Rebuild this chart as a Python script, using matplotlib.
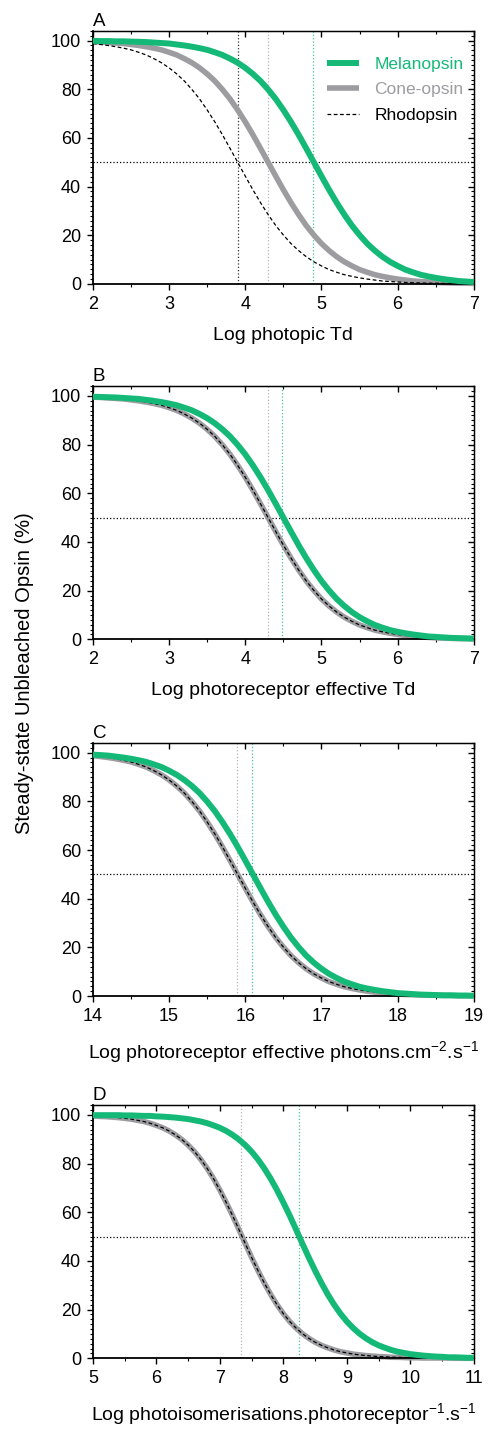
import matplotlib
matplotlib.use("Agg")
import matplotlib.pyplot as plt
from matplotlib.ticker import MultipleLocator

plt.rcParams["font.family"] = ["Liberation Sans", "DejaVu Sans"]
plt.rcParams["mathtext.fontset"] = "custom"
plt.rcParams["mathtext.rm"] = "Liberation Sans"
plt.rcParams["mathtext.it"] = "Liberation Sans:italic"

# ---- data (0.1 log-unit steps) ----
x_a = [2.0, 2.1, 2.2, 2.3, 2.4, 2.5, 2.6, 2.7, 2.8, 2.9,
       3.0, 3.1, 3.2, 3.3, 3.4, 3.5, 3.6, 3.7, 3.8, 3.9,
       4.0, 4.1, 4.2, 4.3, 4.4, 4.5, 4.6, 4.7, 4.8, 4.9,
       5.0, 5.1, 5.2, 5.3, 5.4, 5.5, 5.6, 5.7, 5.8, 5.9,
       6.0, 6.1, 6.2, 6.3, 6.4, 6.5, 6.6, 6.7, 6.8, 6.9,
       7.0]
a_mel = [99.9, 99.8, 99.8, 99.7, 99.7, 99.6, 99.5, 99.4, 99.2, 99.0,
         98.8, 98.4, 98.0, 97.5, 96.9, 96.2, 95.2, 94.1, 92.6, 90.9,
         88.8, 86.3, 83.4, 79.9, 76.0, 71.5, 66.6, 61.3, 55.7, 50.0,
         44.3, 38.7, 33.4, 28.5, 24.0, 20.1, 16.6, 13.7, 11.2, 9.1,
         7.4, 5.9, 4.8, 3.8, 3.1, 2.5, 2.0, 1.6, 1.2, 1.0,
         0.8]
a_cone = [99.5, 99.4, 99.2, 99.0, 98.8, 98.4, 98.0, 97.5, 96.9, 96.2,
          95.2, 94.1, 92.6, 90.9, 88.8, 86.3, 83.4, 79.9, 76.0, 71.5,
          66.6, 61.3, 55.7, 50.0, 44.3, 38.7, 33.4, 28.5, 24.0, 20.1,
          16.6, 13.7, 11.2, 9.1, 7.4, 5.9, 4.8, 3.8, 3.1, 2.5,
          2.0, 1.6, 1.2, 1.0, 0.8, 0.6, 0.5, 0.4, 0.3, 0.3,
          0.2]
a_rho = [98.8, 98.4, 98.0, 97.5, 96.9, 96.2, 95.2, 94.1, 92.6, 90.9,
         88.8, 86.3, 83.4, 79.9, 76.0, 71.5, 66.6, 61.3, 55.7, 50.0,
         44.3, 38.7, 33.4, 28.5, 24.0, 20.1, 16.6, 13.7, 11.2, 9.1,
         7.4, 5.9, 4.8, 3.8, 3.1, 2.5, 2.0, 1.6, 1.2, 1.0,
         0.8, 0.6, 0.5, 0.4, 0.3, 0.3, 0.2, 0.2, 0.1, 0.1,
         0.1]

x_b = x_a
b_mel = [99.7, 99.6, 99.5, 99.4, 99.2, 99.0, 98.8, 98.4, 98.0, 97.5,
         96.9, 96.2, 95.2, 94.1, 92.6, 90.9, 88.8, 86.3, 83.4, 79.9,
         76.0, 71.5, 66.6, 61.3, 55.7, 50.0, 44.3, 38.7, 33.4, 28.5,
         24.0, 20.1, 16.6, 13.7, 11.2, 9.1, 7.4, 5.9, 4.8, 3.8,
         3.1, 2.5, 2.0, 1.6, 1.2, 1.0, 0.8, 0.6, 0.5, 0.4,
         0.3]
b_cone = [99.5, 99.4, 99.2, 99.0, 98.8, 98.4, 98.0, 97.5, 96.9, 96.2,
          95.2, 94.1, 92.6, 90.9, 88.8, 86.3, 83.4, 79.9, 76.0, 71.5,
          66.6, 61.3, 55.7, 50.0, 44.3, 38.7, 33.4, 28.5, 24.0, 20.1,
          16.6, 13.7, 11.2, 9.1, 7.4, 5.9, 4.8, 3.8, 3.1, 2.5,
          2.0, 1.6, 1.2, 1.0, 0.8, 0.6, 0.5, 0.4, 0.3, 0.3,
          0.2]
b_rho = b_cone

x_c = [14.0, 14.1, 14.2, 14.3, 14.4, 14.5, 14.6, 14.7, 14.8, 14.9,
       15.0, 15.1, 15.2, 15.3, 15.4, 15.5, 15.6, 15.7, 15.8, 15.9,
       16.0, 16.1, 16.2, 16.3, 16.4, 16.5, 16.6, 16.7, 16.8, 16.9,
       17.0, 17.1, 17.2, 17.3, 17.4, 17.5, 17.6, 17.7, 17.8, 17.9,
       18.0, 18.1, 18.2, 18.3, 18.4, 18.5, 18.6, 18.7, 18.8, 18.9,
       19.0]
c_mel = [99.2, 99.0, 98.8, 98.4, 98.0, 97.5, 96.9, 96.2, 95.2, 94.1,
         92.6, 90.9, 88.8, 86.3, 83.4, 79.9, 76.0, 71.5, 66.6, 61.3,
         55.7, 50.0, 44.3, 38.7, 33.4, 28.5, 24.0, 20.1, 16.6, 13.7,
         11.2, 9.1, 7.4, 5.9, 4.8, 3.8, 3.1, 2.5, 2.0, 1.6,
         1.2, 1.0, 0.8, 0.6, 0.5, 0.4, 0.3, 0.3, 0.2, 0.2,
         0.1]
c_cone = [98.8, 98.4, 98.0, 97.5, 96.9, 96.2, 95.2, 94.1, 92.6, 90.9,
          88.8, 86.3, 83.4, 79.9, 76.0, 71.5, 66.6, 61.3, 55.7, 50.0,
          44.3, 38.7, 33.4, 28.5, 24.0, 20.1, 16.6, 13.7, 11.2, 9.1,
          7.4, 5.9, 4.8, 3.8, 3.1, 2.5, 2.0, 1.6, 1.2, 1.0,
          0.8, 0.6, 0.5, 0.4, 0.3, 0.3, 0.2, 0.2, 0.1, 0.1,
          0.1]
c_rho = c_cone

x_d = [5.0, 5.1, 5.2, 5.3, 5.4, 5.5, 5.6, 5.7, 5.8, 5.9,
       6.0, 6.1, 6.2, 6.3, 6.4, 6.5, 6.6, 6.7, 6.8, 6.9,
       7.0, 7.1, 7.2, 7.3, 7.4, 7.5, 7.6, 7.7, 7.8, 7.9,
       8.0, 8.1, 8.2, 8.3, 8.4, 8.5, 8.6, 8.7, 8.8, 8.9,
       9.0, 9.1, 9.2, 9.3, 9.4, 9.5, 9.6, 9.7, 9.8, 9.9,
       10.0, 10.1, 10.2, 10.3, 10.4, 10.5, 10.6, 10.7, 10.8, 10.9,
       11.0]
d_mel = [99.9, 99.9, 99.9, 99.9, 99.9, 99.8, 99.8, 99.7, 99.6, 99.6,
         99.4, 99.3, 99.1, 98.9, 98.6, 98.3, 97.8, 97.3, 96.6, 95.7,
         94.7, 93.4, 91.8, 89.9, 87.6, 84.9, 81.7, 78.0, 73.8, 69.1,
         64.0, 58.6, 52.9, 47.1, 41.4, 36.0, 30.9, 26.2, 22.0, 18.3,
         15.1, 12.4, 10.1, 8.2, 6.6, 5.3, 4.3, 3.4, 2.7, 2.2,
         1.7, 1.4, 1.1, 0.9, 0.7, 0.6, 0.4, 0.4, 0.3, 0.2,
         0.2]
d_cone = [99.6, 99.4, 99.3, 99.1, 98.9, 98.6, 98.3, 97.8, 97.3, 96.6,
          95.7, 94.7, 93.4, 91.8, 89.9, 87.6, 84.9, 81.7, 78.0, 73.8,
          69.1, 64.0, 58.6, 52.9, 47.1, 41.4, 36.0, 30.9, 26.2, 22.0,
          18.3, 15.1, 12.4, 10.1, 8.2, 6.6, 5.3, 4.3, 3.4, 2.7,
          2.2, 1.7, 1.4, 1.1, 0.9, 0.7, 0.6, 0.4, 0.4, 0.3,
          0.2, 0.2, 0.1, 0.1, 0.1, 0.1, 0.1, 0.0, 0.0, 0.0,
          0.0]
d_rho = d_cone

# half-bleach positions (vertical dotted lines)
half_rho = [3.9, None, None, None]
half_cone = [4.3, 4.3, 15.89, 7.34]
half_mel = [4.89, 4.48, 16.09, 8.24]

letters = ["A", "B", "C", "D"]
xlabels = [
    "Log photopic Td",
    "Log photoreceptor effective Td",
    r"Log photoreceptor effective photons.cm$\mathregular{^{-2}}$.s$\mathregular{^{-1}}$",
    r"Log photoisomerisations.photoreceptor$\mathregular{^{-1}}$.s$\mathregular{^{-1}}$",
]
xlims = [(2, 7), (2, 7), (14, 19), (5, 11)]

GREEN = "#14b977"
GRAY = "#9d9da1"

fig = plt.figure(figsize=(4.89, 14.29), dpi=100)
bottoms = [0.8013, 0.5526, 0.3030, 0.0495]
panels = [
    (x_a, a_mel, a_cone, a_rho),
    (x_b, b_mel, b_cone, b_rho),
    (x_c, c_mel, c_cone, c_rho),
    (x_d, d_mel, d_cone, d_rho),
]

for i, (x, mel, cone, rho) in enumerate(panels):
    ax = fig.add_axes([0.190, bottoms[i], 0.779, 0.1771])

    # reference lines
    ax.axhline(50, color="black", lw=0.9, ls=":", zorder=1)
    if half_rho[i] is not None:
        ax.axvline(half_rho[i], color="#333333", lw=0.9, ls=":", zorder=1)
    ax.axvline(half_cone[i], color="#b4b4b8", lw=0.9, ls=":", zorder=1)
    ax.axvline(half_mel[i], color="#45c49a", lw=0.9, ls=":", zorder=1)

    # curves
    ax.plot(x, mel, color=GREEN, lw=4.3, label="Melanopsin", zorder=4,
            clip_on=False, solid_capstyle="butt", solid_joinstyle="round")
    ax.plot(x, cone, color=GRAY, lw=4.0, label="Cone-opsin", zorder=2,
            clip_on=False, solid_capstyle="butt", solid_joinstyle="round")
    ax.plot(x, rho, color="black", lw=0.9, ls=(0, (3, 2)), label="Rhodopsin",
            zorder=3)

    ax.set_xlim(*xlims[i])
    ax.set_ylim(0, 104)
    ax.xaxis.set_major_locator(MultipleLocator(1))
    ax.xaxis.set_minor_locator(MultipleLocator(0.5))
    ax.yaxis.set_major_locator(MultipleLocator(20))
    ax.yaxis.set_minor_locator(MultipleLocator(2))
    ax.tick_params(which="major", direction="out", length=4, width=1.0,
                   labelsize=13, pad=4.5)
    ax.tick_params(which="minor", direction="out", length=2, width=0.8)
    for s in ax.spines.values():
        s.set_linewidth(1.0)
    ax.spines["left"].set_linewidth(1.3)
    ax.spines["bottom"].set_linewidth(1.3)

    # inward ticks on top and right
    top = ax.secondary_xaxis("top")
    top.xaxis.set_major_locator(MultipleLocator(1))
    top.xaxis.set_minor_locator(MultipleLocator(0.5))
    top.tick_params(which="major", direction="in", length=4, width=1.0,
                    labeltop=False)
    top.tick_params(which="minor", direction="in", length=2, width=0.8)
    right = ax.secondary_yaxis("right")
    right.yaxis.set_major_locator(MultipleLocator(20))
    right.yaxis.set_minor_locator(MultipleLocator(2))
    right.tick_params(which="major", direction="in", length=4, width=1.0,
                      labelright=False)
    right.tick_params(which="minor", direction="in", length=2, width=0.8)

    ax.set_xlabel(xlabels[i], fontsize=14, labelpad=10)
    ax.text(0.0, 1.005, letters[i], transform=ax.transAxes, fontsize=13.5,
            ha="left", va="bottom")

    if i == 0:
        leg = ax.legend(loc="upper right", bbox_to_anchor=(1.0, 0.94),
                        frameon=False, fontsize=12.5, handlelength=1.8,
                        handletextpad=0.9, labelspacing=0.6, borderaxespad=0.2)
        for txt, c in zip(leg.get_texts(), [GREEN, GRAY, "black"]):
            txt.set_color(c)

fig.text(25 / 489, 1 - 673 / 1429, "Steady-state Unbleached Opsin (%)",
         rotation=90, ha="center", va="center", fontsize=14.5)

fig.savefig("out.png", dpi=100)
